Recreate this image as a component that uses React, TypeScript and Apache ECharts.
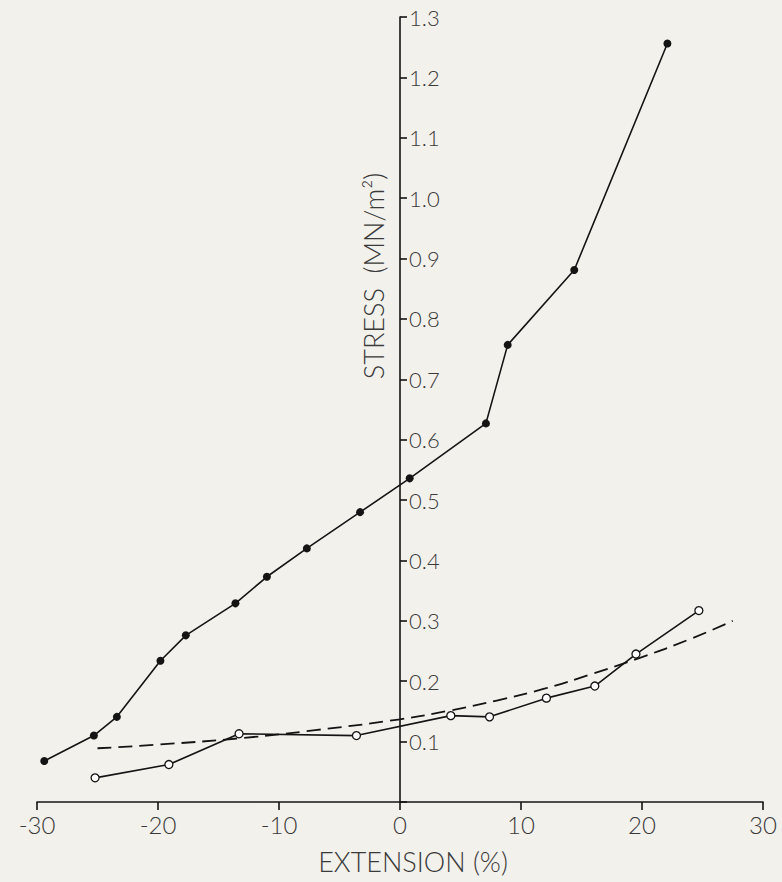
import React, { useEffect, useRef } from "react";
import * as echarts from "echarts";

// Filled circles series: [extension %, stress MN/m2]
const filledSeries: [number, number][] = [
  [-29.4, 0.068], [-25.3, 0.110], [-23.4, 0.141], [-19.8, 0.234], [-17.7, 0.276],
  [-13.6, 0.329], [-11.0, 0.373], [-7.7, 0.420], [-3.3, 0.480], [0.8, 0.536],
  [7.1, 0.627], [8.9, 0.757], [14.4, 0.881], [22.1, 1.256],
];

// Open circles series
const openSeries: [number, number][] = [
  [-25.2, 0.040], [-19.1, 0.062], [-13.3, 0.113], [-3.6, 0.110], [4.2, 0.143],
  [7.4, 0.141], [12.1, 0.172], [16.1, 0.192], [19.5, 0.245], [24.7, 0.317],
];

// Dashed curve
const dashedCurve: [number, number][] = [
  [-25.0, 0.089], [-20.0, 0.095], [-13.0, 0.106], [-7.0, 0.119], [0.0, 0.137],
  [4.0, 0.151], [8.0, 0.168], [12.0, 0.188], [16.0, 0.213], [20.0, 0.240],
  [24.0, 0.270], [27.5, 0.300],
];

const xTicks = [-30, -20, -10, 0, 10, 20, 30];
const yTickValues = [0.1, 0.2, 0.3, 0.4, 0.5, 0.6, 0.7, 0.8, 0.9, 1.0, 1.1, 1.2, 1.3];

const xTitle = "EXTENSION (%)";
const yTitle = "STRESS  (MN/m²)";

const FONT = "Lato, 'DejaVu Sans', sans-serif";
const TEXT = "#3a3a3a";
const LINE = "#141414";
const BG = "#f3f1ec";

export default function App() {
  const ref = useRef<HTMLDivElement>(null);

  useEffect(() => {
    document.body.style.margin = "0";
    document.body.style.background = BG;
    const chart = echarts.init(ref.current!, undefined, { renderer: "svg" });
    chart.setOption({
      animation: false,
      backgroundColor: BG,
      grid: { left: 37, right: 19, top: 17, bottom: 80, containLabel: false },
      xAxis: {
        type: "value",
        min: -30,
        max: 30,
        interval: 10,
        splitLine: { show: false },
        axisLine: { show: true, onZero: false, lineStyle: { color: LINE, width: 1.6 } },
        axisTick: { show: true, inside: false, length: 8, lineStyle: { color: LINE, width: 1.6 } },
        axisLabel: {
          show: true,
          margin: 10,
          fontFamily: FONT,
          fontWeight: 300,
          fontSize: 24,
          color: TEXT,
          formatter: (v: number) => (xTicks.includes(v) ? String(v) : ""),
        },
      },
      yAxis: {
        type: "value",
        min: 0,
        max: 1.3,
        interval: 0.1,
        position: "left",
        offset: -363,
        splitLine: { show: false },
        axisLine: { show: true, onZero: false, lineStyle: { color: LINE, width: 1.6 } },
        axisTick: { show: true, inside: true, length: 7, lineStyle: { color: LINE, width: 1.6 } },
        axisLabel: {
          show: true,
          inside: true,
          margin: 9,
          fontFamily: FONT,
          fontWeight: 300,
          fontSize: 22,
          color: TEXT,
          formatter: (v: number) => {
            const r = Math.round(v * 10) / 10;
            return yTickValues.some((t) => Math.abs(t - r) < 1e-6) ? r.toFixed(1) : "";
          },
        },
      },
      graphic: [
        {
          type: "text",
          x: 413,
          y: 861,
          style: {
            text: xTitle,
            fontFamily: FONT,
            fontWeight: 300,
            fontSize: 27,
            fill: TEXT,
            textAlign: "center",
            textVerticalAlign: "middle",
          },
        },
        {
          type: "text",
          x: 373,
          y: 276,
          rotation: Math.PI / 2,
          style: {
            text: yTitle,
            fontFamily: FONT,
            fontWeight: 300,
            fontSize: 27,
            fill: TEXT,
            textAlign: "center",
            textVerticalAlign: "middle",
          },
        },
      ],
      series: [
        {
          type: "line",
          data: dashedCurve,
          smooth: true,
          showSymbol: false,
          symbol: "none",
          lineStyle: { color: LINE, width: 1.8, type: [14, 7] },
          z: 2,
        },
        {
          type: "line",
          data: filledSeries,
          symbol: "circle",
          symbolSize: 8,
          itemStyle: { color: LINE, borderWidth: 0 },
          lineStyle: { color: LINE, width: 1.6 },
          z: 3,
        },
        {
          type: "line",
          data: openSeries,
          symbol: "circle",
          symbolSize: 8,
          itemStyle: { color: "#ffffff", borderColor: LINE, borderWidth: 1.3 },
          lineStyle: { color: LINE, width: 1.6 },
          z: 3,
        },
      ],
    });
    return () => chart.dispose();
  }, []);

  return (
    <div
      ref={ref}
      style={{ position: "absolute", left: 0, top: 0, width: 782, height: 882, background: BG }}
    />
  );
}
